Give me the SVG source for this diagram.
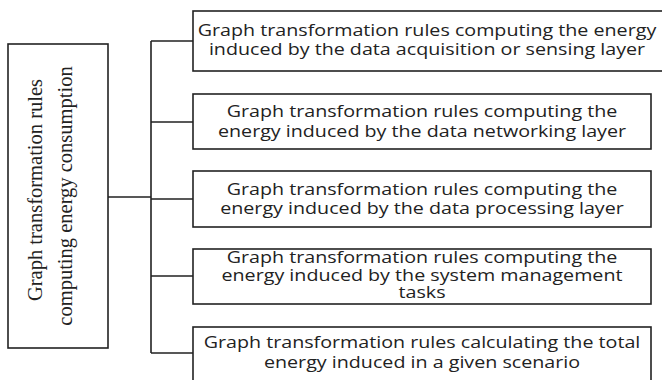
<svg xmlns="http://www.w3.org/2000/svg" width="662" height="380" viewBox="0 0 662 380">
<style>
.box{fill:#fff;stroke:#222;stroke-width:1.6}
.t{font-family:"Open Sans","Noto Sans","DejaVu Sans",sans-serif;font-size:15.5px;fill:#222;text-anchor:middle}
.s{font-family:"Liberation Serif","Times New Roman",serif;font-size:20.5px;fill:#222;text-anchor:middle}
.c{stroke:#222;stroke-width:1.6;fill:none}
</style>
<rect width="662" height="380" fill="#fff"/>
<g id="connectors">
<path class="c" d="M108 197H151M151 41V353M151 41H193M151 122H193M151 199H193M151 276H193M151 353H193"/>
</g>
<g id="root">
<rect class="box" x="8" y="44" width="100" height="304"/>
<text class="s" transform="translate(42 190) rotate(-90)">Graph transformation rules</text>
<text class="s" transform="translate(72 196) rotate(-90)">computing energy consumption</text>
</g>
<g id="n1">
<rect class="box" x="193" y="11" width="480" height="60"/>
<text class="t" transform="translate(427 36) scale(1.27 1)">Graph transformation rules computing the energy</text>
<text class="t" transform="translate(427 55) scale(1.27 1)">induced by the data acquisition or sensing layer</text>
</g>
<g id="n2">
<rect class="box" x="193" y="94" width="458" height="55"/>
<text class="t" transform="translate(422 117) scale(1.27 1)">Graph transformation rules computing the</text>
<text class="t" transform="translate(422 137) scale(1.27 1)">energy induced by the data networking layer</text>
</g>
<g id="n3">
<rect class="box" x="193" y="171" width="458" height="56"/>
<text class="t" transform="translate(422 195) scale(1.27 1)">Graph transformation rules computing the</text>
<text class="t" transform="translate(422 214) scale(1.27 1)">energy induced by the data processing layer</text>
</g>
<g id="n4">
<rect class="box" x="193" y="249" width="458" height="55"/>
<text class="t" transform="translate(422 263) scale(1.27 1)">Graph transformation rules computing the</text>
<text class="t" transform="translate(422 281) scale(1.27 1)">energy induced by the system management</text>
<text class="t" transform="translate(422 298) scale(1.27 1)">tasks</text>
</g>
<g id="n5">
<rect class="box" x="193" y="327" width="458" height="60"/>
<text class="t" transform="translate(422 348) scale(1.27 1)">Graph transformation rules calculating the total</text>
<text class="t" transform="translate(422 368) scale(1.27 1)">energy induced in a given scenario</text>
</g>
</svg>
